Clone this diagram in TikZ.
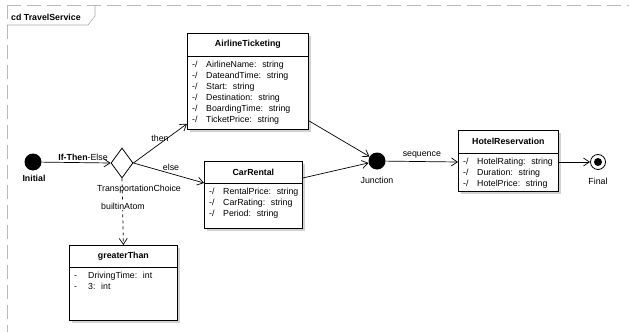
\documentclass[tikz,border=0pt]{standalone}
\usepackage{fontspec}
\setmainfont{Liberation Sans}
\usetikzlibrary{arrows.meta,calc,shapes.geometric}

% class box: name, x, y, width, height, header height, title, attribute rows
\newcommand\umlclass[8]{%
  \fill[boxshadow] ($(#2,#3)+(2.5,2.5)$) rectangle ++(#4,#5);
  \node[cls,minimum width=#4pt,minimum height=#5pt] (#1) at (#2,#3) {};
  \draw[line width=0.8pt] ($(#1.north west)+(0,#6)$) -- ($(#1.north east)+(0,#6)$);
  \node[hdr] (#1-title) at ($(#1.north)+(0,#6/2)$) {#7};
  \node[attrs] (#1-attrs) at ($(#1.north west)+(5,#6+4)$)
    {\begin{tabular}{@{}p{14pt}@{}l@{}}#8\end{tabular}};
}

\begin{document}
\begin{tikzpicture}[x=1pt,y=-1pt,
  font=\fontsize{8.8}{10}\selectfont,
  cls/.style={draw=black,line width=0.8pt,fill=white,anchor=north west,inner sep=0pt},
  boxshadow/.style={fill=gray!35},
  hdr/.style={font=\fontsize{8.8}{10}\selectfont\bfseries,inner sep=0pt},
  attrs/.style={anchor=north west,inner sep=0pt,align=left,font=\fontsize{8.8}{11}\selectfont},
  arr/.style={-{Straight Barb[length=6pt,width=8pt]},line width=0.7pt},
  lbl/.style={font=\fontsize{8.8}{10}\selectfont,inner sep=0.5pt},
  dot/.style={circle,fill=black,inner sep=0pt,minimum size=17pt},
  framedge/.style={draw=gray!55,line width=0.6pt,dash pattern=on 14pt off 6pt},
  choice/.style={diamond,draw,line width=0.8pt,fill=white,inner sep=0pt,
    minimum width=22pt,minimum height=30pt},
]
\useasboundingbox (0,0) rectangle (629,332);

% diagram frame and its name tag
\draw[framedge] (7,5) -- (629,5);
\draw[framedge] (7,5) -- (7,332);
\node[anchor=west,inner sep=0pt,font=\fontsize{8.8}{10}\selectfont\bfseries] (frametag) at (11,17) {cd TravelService};
\draw[line width=0.6pt,draw=gray!70] (7,25) -- (88,25) -- (95,16) -- (95,5);

% classes
\umlclass{air}{187}{33}{121}{96}{23}{AirlineTicketing}{%
  -/ & AirlineName:~ string\\ -/ & DateandTime:~ string\\ -/ & Start:~ string\\
  -/ & Destination:~ string\\ -/ & BoardingTime:~ string\\ -/ & TicketPrice:~ string}
\umlclass{car}{204}{161}{98}{67}{22}{CarRental}{%
  -/ & RentalPrice:~ string\\ -/ & CarRating:~ string\\ -/ & Period:~ string}
\umlclass{hotel}{458}{130}{100}{61}{23}{HotelReservation}{%
  -/ & HotelRating:~ string\\ -/ & Duration:~ string\\ -/ & HotelPrice:~ string}
\umlclass{gt}{69}{245}{108}{75}{22}{greaterThan}{%
  - & DrivingTime:~ int\\ - & 3:~ int}

% control nodes
\node[dot] (init) at (33,162) {};
\node[font=\fontsize{8.8}{10}\selectfont\bfseries,inner sep=0pt] (initlbl) at (34,178) {Initial};
\node[choice] (dia) at (122,163) {};
\node[lbl] (dialbl) at (139,189) {TransportationChoice};
\node[dot] (junc) at (377,161) {};
\node[lbl] (junclbl) at (377,180) {Junction};
\node[circle,draw,line width=0.8pt,minimum size=15pt,inner sep=0pt] (final) at (598,162) {};
\node[circle,fill=black,minimum size=8pt,inner sep=0pt] (finalin) at (final) {};
\node[lbl] (finallbl) at (598,181) {Final};

% attachment points on the class boxes
\coordinate (airin) at ($(air.south west)+(0,-6)$);
\coordinate (airout) at ($(air.south east)+(0,-9)$);
\coordinate (carin) at ($(car.north west)+(0,22)$);
\coordinate (carout) at ($(car.north east)+(0,17)$);
\coordinate (hotelin) at ($(hotel.north west)+(0,32)$);
\coordinate (hotelout) at ($(hotel.north east)+(0,32)$);

% connectors
\draw[arr] (init) -- (dia.west) node[lbl,pos=0.6,above=1pt] (ite) {\textbf{If-Then}-Else};
\draw[arr] (dia.east) -- (airin);
\node[lbl] (thenlbl) at (160,138) {then};
\draw[arr] (dia.east) -- (carin);
\node[lbl] (elselbl) at (171,167) {else};
\draw[arr,dashed] (dia.south) -- (gt.north);
\node[lbl,fill=white] (atomlbl) at (123,206) {builtinAtom};
\draw[arr] (airout) -- (junc);
\draw[arr] (carout) -- (junc);
\draw[arr] (junc) -- (hotelin) node[lbl,midway,above=2pt] (seqlbl) {sequence};
\draw[arr] (hotelout) -- (final);
\end{tikzpicture}
\end{document}
